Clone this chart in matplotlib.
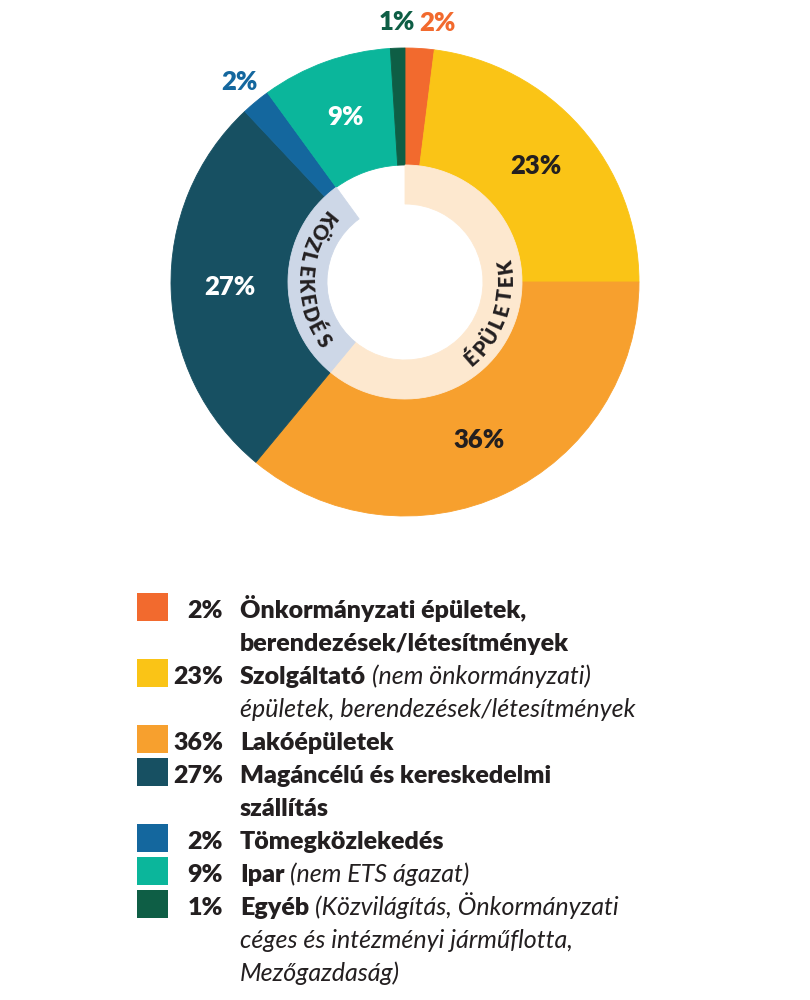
import matplotlib
matplotlib.use("Agg")
import matplotlib.pyplot as plt
from matplotlib.patches import Rectangle
import numpy as np

plt.rcParams['font.family'] = ['Lato', 'DejaVu Sans']

# sector shares (%), clockwise from 12 o'clock
shares = [2, 23, 36, 27, 2, 9, 1]
colors = ["#F26A2E", "#FAC416", "#F7A02E", "#175062", "#14679E", "#0BB69B", "#0E5E45"]
pct_colors = ["#231F20", "#231F20", "#231F20", "white", "white", "white", "#231F20"]

# inner ring: groups of sectors
groups = ["ÉPÜLETEK", "KÖZLEKEDÉS", ""]
group_shares = [61, 29, 10]
group_colors = ["#FDE8CF", "#CDD7E7", "none"]

# legend rows: list of lines, each line a list of (text, style)
legend_rows = [
    [[("Önkormányzati épületek,", "bold")],
     [("berendezések/létesítmények", "bold")]],
    [[("Szolgáltató", "bold"), ("(nem önkormányzati)", "italic")],
     [("épületek, berendezések/létesítmények", "italic")]],
    [[("Lakóépületek", "bold")]],
    [[("Magáncélú és kereskedelmi", "bold")],
     [("szállítás", "bold")]],
    [[("Tömegközlekedés", "bold")]],
    [[("Ipar", "bold"), ("(nem ETS ágazat)", "italic")]],
    [[("Egyéb", "bold"), ("(Közvilágítás, Önkormányzati", "italic")],
     [("céges és intézményi járműflotta,", "italic")],
     [("Mezőgazdaság)", "italic")]],
]

DARK = "#231F20"
HEAVY = 'heavy'
W, H = 810, 1000
CX, CY = 405, H - 282
R_OUT = 234


def polar(r, deg):
    a = np.deg2rad(deg)
    return CX + r * np.cos(a), CY + r * np.sin(a)


fig = plt.figure(figsize=(W / 100, H / 100), dpi=100)
ax = fig.add_axes([0, 0, 1, 1])

outer, _ = ax.pie(shares, colors=colors, startangle=90, counterclock=False,
                  radius=R_OUT, center=(CX, CY),
                  wedgeprops=dict(width=117, linewidth=0.6))
inner, _ = ax.pie(group_shares, colors=group_colors, startangle=90, counterclock=False,
                  radius=117, center=(CX, CY),
                  wedgeprops=dict(width=39, linewidth=0.6))
for w in outer + inner:
    w.set_edgecolor(w.get_facecolor())

ax.set_xlim(0, W)
ax.set_ylim(0, H)
ax.set_aspect('equal')
ax.axis('off')

# percentage labels
for w, s, c, pc in zip(outer, shares, colors, pct_colors):
    mid = (w.theta1 + w.theta2) / 2
    if s >= 5:
        x, y = polar(175, mid)
        ax.text(x, y, f"{s}%", color=pc, fontsize=18.5, fontweight=HEAVY,
                ha='center', va='center')
    else:
        x, y = polar(260, mid)
        ha = 'center'
        if abs(mid - 90) < 6:
            # two tiny slices at the top: push the labels apart
            ha = 'right' if mid > 90 else 'left'
            x += 4 if mid > 90 else -2
        ax.text(x, y, f"{s}%", color=c, fontsize=18.5, fontweight=HEAVY,
                ha=ha, va='center')

# curved group labels on the inner ring
step = 8.3
for w, name in zip(inner, groups):
    if not name:
        continue
    mid = (w.theta1 + w.theta2) / 2
    n = len(name)
    for i, ch in enumerate(name):
        ang = mid + (i - (n - 1) / 2) * step
        x, y = polar(101, ang)
        ax.text(x, y, ch, color=DARK, fontsize=14.5, fontweight=HEAVY,
                rotation=ang + 90, rotation_mode='anchor',
                ha='center', va='center')

# legend
renderer = fig.canvas.get_renderer()
line = 0
base0, pitch = H - 618, 33
for row, s, c in zip(legend_rows, shares, colors):
    yb = base0 - line * pitch
    ax.add_patch(Rectangle((137, yb + 11 - 14), 31, 28, facecolor=c, edgecolor='none'))
    ax.text(223, yb, f"{s}%", color=DARK, fontsize=18, fontweight=HEAVY,
            ha='right', va='baseline')
    for parts in row:
        yb = base0 - line * pitch
        x = 240
        for txt, style in parts:
            t = ax.text(x, yb, txt, color=DARK, fontsize=18, va='baseline', ha='left',
                        fontweight=HEAVY if style == 'bold' else 'normal',
                        fontstyle='italic' if style == 'italic' else 'normal')
            bb = t.get_window_extent(renderer)
            x = bb.x1 + 6
        line += 1

fig.savefig("out.png", dpi=100, facecolor='white')
